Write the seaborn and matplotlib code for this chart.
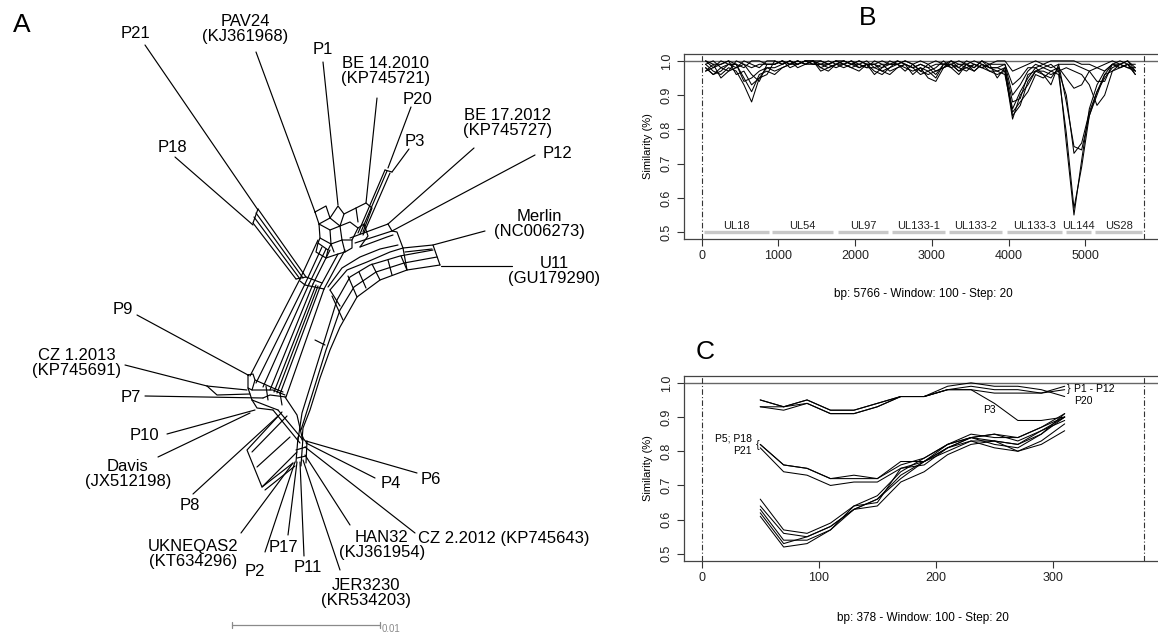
import numpy as np
import pandas as pd
import matplotlib
matplotlib.use('Agg')
import matplotlib.pyplot as plt
import seaborn as sns

sns.set_theme(style='white')
plt.rcParams['font.family'] = ['Liberation Sans', 'DejaVu Sans']
plt.rcParams['text.color'] = 'black'
plt.rcParams['axes.labelcolor'] = 'black'
plt.rcParams['xtick.color'] = '#222222'
plt.rcParams['ytick.color'] = '#222222'

# ---------------- Panel A : split network (node coordinates of the layout) -------------
net_band = [  # P18 / P21 band and junction
    [(258, 209), (306, 277)], [(256, 213), (303, 278)], [(254, 217), (300, 279)],
    [(253, 223), (296, 279)], [(258, 209), (253, 223)],
    [(296, 279), (306, 277), (322, 283)], [(300, 281), (305, 285), (324, 289)],
]
net_trunk = [
    [(300, 279), (250, 376)], [(305, 284), (256, 383)], [(309, 284), (263, 387)],
    [(313, 284), (270, 390)], [(316, 285), (274, 392)], [(318, 286), (277, 393)],
    [(320, 287), (280, 394)], [(324, 289), (286, 397)],
    [(300, 279), (318, 240)], [(305, 284), (322, 247)], [(309, 284), (326, 249)],
    [(313, 284), (330, 250)], [(320, 287), (338, 254)], [(324, 289), (345, 250)],
]
net_cluster = [
    [(315, 212), (326, 206), (330, 218), (319, 224), (315, 212)],
    [(330, 218), (338, 206), (344, 214), (340, 226), (330, 218)],
    [(319, 224), (320, 238), (331, 244), (330, 230), (319, 224)],
    [(330, 230), (340, 226), (342, 240), (331, 244)],
    [(340, 226), (350, 222), (358, 228), (352, 240), (342, 240)],
    [(320, 238), (318, 243), (328, 250), (331, 244)],
    [(342, 240), (345, 252), (352, 248), (352, 240)],
    [(318, 243), (316, 252), (326, 258), (328, 250)],
    [(326, 258), (338, 254), (345, 252)], [(331, 244), (334, 252)],
    [(344, 214), (356, 208), (358, 222)], [(356, 208), (366, 203), (372, 208), (363, 232)],
    [(358, 228), (364, 224), (368, 236), (360, 247)],
    [(385, 170), (358, 233)], [(390, 173), (363, 235)], [(387, 171), (360, 234)],
    [(385, 170), (392, 172)],
]
net_arm = [
    [(350, 238), (388, 224)], [(355, 243), (392, 231)], [(360, 247), (387, 237), (393, 235)],
    [(388, 224), (392, 231), (397, 232), (403, 248), (407, 270)],
    [(403, 248), (433, 245), (440, 265)], [(405, 252), (432, 249)],
    [(440, 265), (407, 270), (380, 280), (357, 297), (340, 327), (330, 350), (320, 378),
     (310, 410), (303, 428), (302, 440)],
    [(437, 257), (404, 263), (376, 272), (354, 287), (340, 310), (326, 350), (312, 395),
     (301, 430)],
    [(433, 250), (400, 256), (370, 265), (350, 277), (337, 300), (320, 355), (302, 413), (298, 440)],
    [(403, 248), (390, 252), (367, 262), (347, 270), (330, 290)],
    [(398, 245), (380, 249), (360, 257), (342, 268), (328, 287)],
    [(343, 320), (332, 296)], [(357, 297), (348, 276)], [(380, 280), (372, 264)],
    [(407, 270), (401, 256)], [(330, 290), (340, 306)], [(325, 345), (315, 340)],
    [(392, 275), (388, 260)], [(366, 288), (359, 272)],
]
net_left = [
    [(248, 375), (253, 374), (255, 380), (252, 390), (248, 388), (248, 375)],
    [(255, 380), (273, 388), (283, 392)], [(252, 390), (273, 390), (285, 395)],
    [(252, 400), (270, 407), (278, 410)], [(252, 400), (257, 408), (273, 410)],
    [(248, 388), (252, 400)], [(263, 398), (270, 395), (286, 397)],
    [(266, 386), (268, 400)], [(280, 393), (282, 405)],
    [(273, 410), (300, 443)], [(278, 410), (303, 440)],
    [(285, 397), (297, 415), (302, 437), (307, 443)],
    [(207, 386), (247, 390)], [(207, 386), (217, 395), (250, 394)],
    [(282, 412), (247, 450), (262, 487), (297, 452)], [(287, 416), (252, 452)],
    [(257, 467), (290, 437)], [(262, 487), (293, 463)], [(265, 490), (295, 466)],
    [(298, 437), (296, 462)], [(303, 437), (301, 466)], [(307, 441), (306, 463)],
    [(296, 450), (306, 447)], [(297, 458), (306, 456)],
]

leaf_names = ['P21', 'PAV24\n(KJ361968)', 'P18', 'P1', 'BE 14.2010\n(KP745721)', 'P20', 'P3',
              'BE 17.2012\n(KP745727)', 'P12', 'Merlin\n(NC006273)', 'U11\n(GU179290)', 'P9',
              'CZ 1.2013\n(KP745691)', 'P7', 'P10', 'Davis\n(JX512198)', 'P8',
              'UKNEQAS2\n(KT634296)', 'P2', 'P17', 'P11', 'JER3230\n(KR534203)',
              'HAN32\n(KJ361954)', 'CZ 2.2012 (KP745643)', 'P4', 'P6']
leaf_label_xy = [(135, 34), (245, 29), (172, 147), (323, 50), (386, 71), (418, 99), (415, 141),
                 (508, 123), (557, 153), (539, 224), (554, 271), (123, 310), (77, 363),
                 (131, 397), (144, 436), (128, 474), (190, 505), (193, 554), (255, 571),
                 (283, 547), (308, 568), (366, 593), (382, 545), (504, 538), (391, 484), (431, 479)]
leaf_from = [(145, 45), (256, 52), (175, 157), (323, 62), (377, 98), (411, 107), (409, 149),
             (474, 148), (535, 155), (485, 231), (512, 266), (137, 315), (125, 365), (145, 396),
             (167, 434), (158, 457), (193, 494), (241, 533), (265, 552), (288, 535), (304, 556),
             (340, 570), (350, 525), (415, 533), (375, 478), (417, 473)]
leaf_to = [(258, 210), (315, 212), (253, 225), (338, 205), (366, 203), (388, 168), (392, 172),
           (388, 224), (392, 231), (433, 245), (441, 266), (248, 375), (207, 386), (263, 398),
           (255, 410), (250, 413), (277, 417), (293, 463), (295, 462), (297, 462), (300, 462),
           (303, 460), (305, 455), (305, 447), (306, 443), (306, 441)]

scale_bar = [(232, 625), (380, 625)]
scale_label = '0.01'

# ---------------- Panel B : similarity plot, full region ----------------
b_bp = np.arange(50, 5651, 100)
b_s1 = [0.99,0.97,0.96,0.98,0.97,0.93,0.88,0.95,0.98, 0.98,0.99,1.0,0.99,1.0,1.0,0.99,0.98,0.99,
        0.99,0.98,0.97,0.99,0.97,0.96,0.98, 0.99,0.98,0.97,0.98,0.95,0.94,0.98,
        0.99,0.97,0.98,0.99,0.98,0.97,0.96, 0.97,0.83,0.90,0.93,0.97,0.96,0.95,0.98,
        0.76,0.55,0.71,0.86,0.93,0.97,0.99,0.98,0.99,0.96]
b_s2 = [0.98,0.96,0.98,0.99,0.99,0.95,0.91,0.96,0.97, 0.96,0.98,0.99,1.0,0.99,1.0,0.98,0.97,0.99,
        1.0,0.99,0.99,0.98,0.98,0.97,0.96, 0.98,0.99,0.98,0.96,0.97,0.95,0.99,
        0.98,0.96,0.99,0.97,0.99,0.98,0.97, 0.96,0.85,0.88,0.91,0.96,0.95,0.97,0.96,
        0.79,0.57,0.69,0.84,0.91,0.96,0.99,0.99,1.0,0.97]
b_s3 = [0.97,0.99,0.95,0.97,0.98,0.99,0.96,0.94,0.99, 0.99,1.0,0.98,0.99,1.0,0.99,0.99,0.99,0.98,
        0.99,1.0,0.98,0.99,0.96,0.98,0.99, 0.99,0.97,0.99,0.97,0.96,0.97,0.98,
        1.0,0.98,0.97,0.99,0.98,0.99,0.95, 0.98,0.84,0.87,0.94,0.97,0.97,0.96,0.97,
        0.90,0.73,0.76,0.85,0.91,0.95,0.98,0.99,0.98,0.98]
b_s4 = [1.0,0.98,0.99,1.0,0.96,0.97,0.93,0.95,0.96, 1.0,0.99,1.0,0.98,0.99,1.0,0.97,0.98,0.99,
        0.98,0.99,1.0,0.99,0.99,0.97,0.98, 1.0,0.99,0.98,0.99,0.98,0.96,0.99,
        0.99,0.97,0.99,0.98,1.0,0.98,0.98, 0.97,0.86,0.91,0.95,0.98,0.96,0.93,0.99,
        0.88,0.75,0.74,0.84,0.90,0.96,0.97,0.98,0.99,0.96]
b_s5 = [0.98,0.96,0.97,0.99,0.99,0.94,0.95,0.97,0.98, 0.97,0.98,0.99,1.0,0.99,0.99,1.0,0.99,1.0,
        0.99,0.98,0.99,1.0,0.98,0.99,0.97, 0.98,0.99,0.96,0.98,0.97,0.98,1.0,
        0.98,0.99,0.98,0.97,0.99,0.97,0.97, 0.98,0.88,0.89,0.96,0.97,0.98,0.97,0.98,
        0.95,0.92,0.93,0.97,0.98,0.99,1.0,0.99,0.98,0.97]
b_s6 = [0.99,1.0,0.98,0.97,1.0,0.99,0.98,0.99,0.99, 0.99,1.0,0.99,0.99,1.0,0.99,0.99,1.0,0.99,
        1.0,0.99,0.98,0.99,0.99,0.98,1.0, 0.99,1.0,0.99,0.97,0.99,0.97,0.98,
        0.99,0.98,1.0,0.99,0.98,0.99,0.99, 0.99,0.90,0.93,0.97,0.99,0.98,0.99,0.97,
        0.98,0.97,0.96,0.93,0.87,0.90,0.97,0.99,1.0,0.98]
b_s7 = [0.97,0.98,1.0,0.99,0.98,1.0,0.99,0.98,1.0, 1.0,0.99,1.0,0.99,1.0,1.0,0.98,0.99,1.0,
        0.99,1.0,0.99,0.98,1.0,0.99,0.99, 1.0,0.99,0.98,0.99,0.98,0.99,0.99,
        1.0,0.99,0.99,1.0,0.99,0.98,0.98, 0.99,0.93,0.95,0.98,0.98,0.99,0.98,0.99,
        0.99,0.99,0.98,0.97,0.94,0.94,0.99,1.0,0.99,0.97]
b_s8 = [1.0,0.99,0.99,1.0,0.99,0.98,1.0,1.0,0.99, 0.99,1.0,0.99,1.0,0.99,1.0,1.0,0.99,1.0,
        1.0,0.99,1.0,0.99,0.99,1.0,0.99, 0.99,1.0,0.99,1.0,0.99,1.0,0.99,
        0.99,1.0,0.99,0.98,1.0,0.99,1.0, 1.0,0.97,0.98,0.99,1.0,0.99,1.0,1.0,
        1.0,1.0,0.99,0.99,0.98,0.97,0.99,0.98,0.99,0.99]
b_series = {'s1': b_s1, 's2': b_s2, 's3': b_s3, 's4': b_s4,
            's5': b_s5, 's6': b_s6, 's7': b_s7, 's8': b_s8}
b_length = 5766
genes = ['UL18', 'UL54', 'UL97', 'UL133-1', 'UL133-2', 'UL133-3', 'UL144', 'US28']
gene_start = [30, 920, 1775, 2478, 3220, 3971, 4748, 5126]
gene_end = [870, 1710, 2426, 3164, 3915, 4691, 5074, 5738]

# ---------------- Panel C : similarity plot, UL144 region ----------------
c_bp = np.arange(50, 311, 20)
c_P1 = [0.95,0.93,0.95,0.92,0.92,0.94,0.96,0.96,0.99,1.00,0.99,0.99,0.98,0.96]
c_P12 = [0.95,0.93,0.95,0.92,0.92,0.94,0.96,0.96,0.98,0.99,0.98,0.98,0.97,0.98]
c_P20 = [0.93,0.92,0.94,0.91,0.91,0.93,0.96,0.96,0.98,0.98,0.97,0.97,0.97,0.99]
c_P3 = [0.93,0.93,0.94,0.91,0.91,0.93,0.96,0.96,0.98,0.98,0.94,0.89,0.89,0.90]
c_P5 = [0.82,0.76,0.75,0.72,0.73,0.72,0.77,0.77,0.82,0.85,0.84,0.84,0.87,0.91]
c_P18 = [0.82,0.76,0.75,0.72,0.72,0.72,0.76,0.78,0.82,0.84,0.85,0.83,0.86,0.90]
c_P21 = [0.81,0.74,0.73,0.70,0.71,0.71,0.75,0.77,0.81,0.84,0.83,0.82,0.85,0.90]
c_L1 = [0.66,0.57,0.56,0.59,0.64,0.67,0.74,0.78,0.82,0.84,0.85,0.84,0.87,0.90]
c_L2 = [0.64,0.56,0.55,0.58,0.63,0.66,0.73,0.77,0.81,0.83,0.83,0.82,0.86,0.89]
c_L3 = [0.63,0.54,0.54,0.57,0.64,0.65,0.75,0.76,0.81,0.84,0.82,0.81,0.85,0.91]
c_L4 = [0.62,0.53,0.55,0.58,0.63,0.66,0.72,0.77,0.80,0.83,0.81,0.80,0.83,0.88]
c_L5 = [0.61,0.52,0.53,0.57,0.63,0.64,0.71,0.74,0.79,0.82,0.83,0.80,0.82,0.86]
c_series = {'P1': c_P1, 'P12': c_P12, 'P20': c_P20, 'P3': c_P3, 'P5': c_P5, 'P18': c_P18,
            'P21': c_P21, 'L1': c_L1, 'L2': c_L2, 'L3': c_L3, 'L4': c_L4, 'L5': c_L5}
c_length = 378

# ======================================================================
W, H = 1158, 633
fig = plt.figure(figsize=(W / 100, H / 100), dpi=100)
fig.patch.set_facecolor('white')

# ---- Panel A
axA = fig.add_axes([0, 0, 600 / W, 1])
rows = []
pid = 0
for group in (net_band, net_trunk, net_cluster, net_arm, net_left):
    for path in group:
        for k, (x, y) in enumerate(path):
            rows.append((pid, k, x, y))
        pid += 1
for a, b in zip(leaf_from, leaf_to):
    rows.append((pid, 0, a[0], a[1]))
    rows.append((pid, 1, b[0], b[1]))
    pid += 1
dfA = pd.DataFrame(rows, columns=['path', 'order', 'x', 'y'])
sns.lineplot(data=dfA, x='x', y='y', units='path', estimator=None, sort=False,
             color='black', linewidth=0.85, ax=axA, legend=False)
axA.set_xlim(0, 600)
axA.set_ylim(633, 0)
axA.axis('off')
for name, (x, y) in zip(leaf_names, leaf_label_xy):
    axA.text(x, y, name, ha='center', va='center', fontsize=12, linespacing=1.05,
             color='black')
(sx0, sy0), (sx1, sy1) = scale_bar
axA.plot([sx0, sx1], [sy0, sy1], color='#8a8a8a', lw=0.9)
axA.plot([sx0, sx0], [sy0 - 3, sy0 + 3], color='#8a8a8a', lw=0.9)
axA.plot([sx1, sx1], [sy1 - 3, sy1 + 3], color='#8a8a8a', lw=0.9)
axA.text(sx1 + 2, sy1 + 4, scale_label, fontsize=7, color='#8a8a8a', ha='left', va='center')


def r_style(ax, xlim, xticks, length):
    ax.set_xlim(*xlim)
    ax.set_ylim(0.48, 1.02)
    ax.set_xticks(xticks)
    ax.set_xticklabels([str(t) for t in xticks], fontsize=9)
    yt = [0.5, 0.6, 0.7, 0.8, 0.9, 1.0]
    ax.set_yticks(yt)
    ax.set_yticklabels(['%.1f' % t for t in yt], fontsize=9, rotation=90, va='center')
    ax.tick_params(axis='both', direction='out', length=5, width=0.8, color='#333333',
                   left=True, bottom=True, pad=3, labelcolor='#222222')
    for sp in ax.spines.values():
        sp.set_color('#444444')
        sp.set_linewidth(0.9)
        sp.set_visible(True)
    ax.axhline(1.0, color='#666666', lw=1.0, zorder=1)
    for v in (0, length):
        ax.axvline(v, color='#333333', lw=0.8, ls=(0, (5, 2, 1, 2)), zorder=1)
    ax.set_ylabel('Similarity (%)', fontsize=8, labelpad=6)
    ax.grid(False)
    ax.set_facecolor('white')


# ---- Panel B
axB = fig.add_axes([684 / W, 1 - 239 / H, 478 / W, 185 / H])
dfB = pd.DataFrame([(s, x, v) for s, vals in b_series.items() for x, v in zip(b_bp, vals)],
                   columns=['strain', 'bp', 'similarity'])
sns.lineplot(data=dfB, x='bp', y='similarity', units='strain', estimator=None,
             color='black', linewidth=0.75, ax=axB, legend=False)
r_style(axB, (-231, 5997), [0, 1000, 2000, 3000, 4000, 5000], b_length)
axB.hlines([0.5] * len(genes), gene_start, gene_end, color='#c8c8c8', lw=2.4, zorder=2)
for g, s0, s1 in zip(genes, gene_start, gene_end):
    axB.text((s0 + s1) / 2, 0.518, g, ha='center', va='center', fontsize=8, color='#222222')
axB.set_xlabel('bp: %d - Window: 100 - Step: 20' % b_length, fontsize=8.5, labelpad=19)

# ---- Panel C
axC = fig.add_axes([684 / W, 1 - 560.7 / H, 478 / W, 184.7 / H])
dfC = pd.DataFrame([(s, x, v) for s, vals in c_series.items() for x, v in zip(c_bp, vals)],
                   columns=['strain', 'bp', 'similarity'])
sns.lineplot(data=dfC, x='bp', y='similarity', units='strain', estimator=None,
             color='black', linewidth=0.75, ax=axC, legend=False)
r_style(axC, (-15.1, 393.1), [0, 100, 200, 300], c_length)
axC.set_xlabel('bp: %d - Window: 100 - Step: 20' % c_length, fontsize=8.5, labelpad=20)
axC.text(313, 0.9825, '}', fontsize=8, ha='center', va='center')
axC.text(318, 0.9825, 'P1 - P12', fontsize=7.5, ha='left', va='center')
axC.text(318, 0.948, 'P20', fontsize=7.5, ha='left', va='center')
axC.text(246, 0.922, 'P3', fontsize=7.5, ha='center', va='center')
axC.text(43, 0.837, 'P5; P18', fontsize=7.5, ha='right', va='center')
axC.text(43, 0.800, 'P21', fontsize=7.5, ha='right', va='center')
axC.text(47.5, 0.818, '{', fontsize=8, ha='center', va='center')

# ---- Panel letters
fig.text(22 / W, 1 - 25 / H, 'A', fontsize=19, ha='center', va='center')
fig.text(868 / W, 1 - 18 / H, 'B', fontsize=19, ha='center', va='center')
fig.text(705 / W, 1 - 352 / H, 'C', fontsize=19, ha='center', va='center')

fig.savefig('out.png', dpi=100, facecolor='white')
